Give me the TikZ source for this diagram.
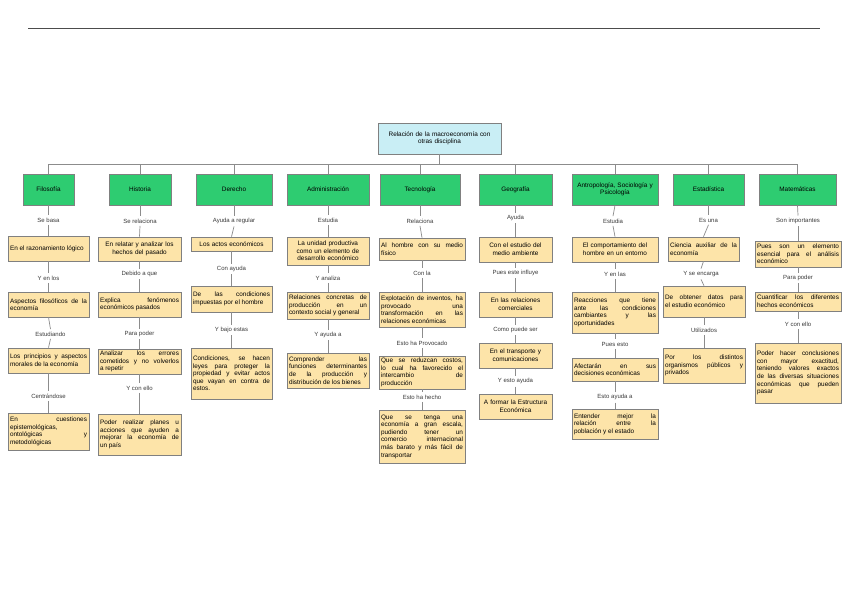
\documentclass[tikz,border=0pt]{standalone}
\usepackage{fontspec}
\setmainfont{Liberation Sans}
\definecolor{gfill}{HTML}{2ECC71}
\definecolor{yfill}{HTML}{FDE4A9}
\definecolor{rfill}{HTML}{C9EEF5}
\definecolor{edgec}{HTML}{808080}
\definecolor{linec}{HTML}{8C8C8C}
\definecolor{lblc}{HTML}{3A3A3A}
\newcommand\ytext{\fontsize{6.4}{7.6}\selectfont\hyphenpenalty=10000\exhyphenpenalty=10000\tolerance=9999\emergencystretch=20pt}
\newcommand\ltext{\fontsize{6}{7}\selectfont}
\newcommand\BX[7]{%
  \pgfmathsetmacro\bxw{#5-#3-4}\pgfmathsetmacro\bxh{#6-#4}%
  \node[#1, text width=\bxw pt, minimum height=\bxh pt] (#2) at ({(#3+#5)/2},{(#4+#6)/2}) {#7};}
\begin{document}
\begin{tikzpicture}[x=1pt,y=-1pt,
  box/.style={draw=edgec, line width=0.7pt, inner sep=2pt, font=\ytext},
  ybox/.style={box, fill=yfill, align=justify},
  ycbox/.style={box, fill=yfill, align=center},
  gbox/.style={box, fill=gfill, align=center},
  rootbox/.style={box, fill=rfill, align=center},
  lbl/.style={font=\ltext, text=lblc, inner sep=2.5pt},
  conn/.style={draw=linec, line width=0.7pt},
  topline/.style={draw=black!70, line width=0.8pt}]
\fill[white] (0,0) rectangle (848,599);
\useasboundingbox (0,0) rectangle (848,599);
\coordinate (tl) at (28,28);
\coordinate (tr) at (820,28);
\draw[topline] (tl) -- (tr);

% root
\BX{rootbox}{root}{378}{123}{501}{154}{Relación de la macroeconomía con\\otras disciplina}
\coordinate (bus) at (439.5,164);
\draw[conn] (root.south) -- (bus);

% green boxes
\BX{gbox}{gF}{23}{174}{74}{205}{Filosofía}
\BX{gbox}{gH}{109}{174}{171}{205}{Historia}
\BX{gbox}{gD}{196}{174}{272}{205}{Derecho}
\BX{gbox}{gA}{287}{174}{369}{205}{Administración}
\BX{gbox}{gT}{380}{174}{460}{205}{Tecnología}
\BX{gbox}{gG}{479}{174}{552}{205}{Geografía}
\BX{gbox}{gN}{572}{174}{658}{205}{Antropología, Sociología y\\Psicología}
\BX{gbox}{gE}{673}{174}{744}{205}{Estadística}
\BX{gbox}{gM}{759}{174}{836}{205}{Matemáticas}
\foreach \g in {gF,gH,gD,gA,gT,gG,gN,gE,gM} \draw[conn] (bus) -| (\g.north);

% Filosofia
\node[lbl] (lF1) at (48.5,220) {Se basa};
\BX{ybox}{F1}{8}{236}{89}{261}{En el razonamiento lógico}
\node[lbl] (lF2) at (48.5,278) {Y en los};
\BX{ybox}{F2}{8}{292}{89}{317}{Aspectos filosóficos de la\linebreak economía}
\node[lbl] (lF3) at (50.5,334) {Estudiando};
\BX{ybox}{F3}{8}{348}{89}{373}{Los principios y aspectos\linebreak morales de la economía}
\node[lbl] (lF4) at (48.5,396) {Centrándose};
\BX{ybox}{F4}{8}{413}{89}{450}{En cuestiones\linebreak epistemológicas,\linebreak ontológicas y\linebreak metodológicas}
\draw[conn] (gF.south) -- (lF1.north); \draw[conn] (lF1.south) -- (F1.north);
\draw[conn] (F1.south) -- (lF2.north); \draw[conn] (lF2.south) -- (F2.north);
\draw[conn] (F2.south) -- (lF3.north); \draw[conn] (lF3.south) -- (F3.north);
\draw[conn] (F3.south) -- (lF4.north); \draw[conn] (lF4.south) -- (F4.north);

% Historia
\node[lbl] (lH1) at (140,221) {Se relaciona};
\BX{ycbox}{H1}{98}{237}{181}{261}{En relatar y analizar los\\hechos del pasado}
\node[lbl] (lH2) at (139.5,274) {Debido a que};
\BX{ybox}{H2}{98}{292}{181}{317}{Explica fenómenos\linebreak económicos pasados}
\node[lbl] (lH3) at (139.5,334) {Para poder};
\BX{ybox}{H3}{98}{349}{181}{374}{Analizar los errores\linebreak cometidos y no volverlos\linebreak a repetir}
\node[lbl] (lH4) at (139.5,388) {Y con ello};
\BX{ybox}{H4}{98}{414}{181}{455}{Poder realizar planes u\linebreak acciones que ayuden a\linebreak mejorar la economía de\linebreak un país}
\draw[conn] (gH.south) -- (lH1.north); \draw[conn] (lH1.south) -- (H1.north);
\draw[conn] (H1.south) -- (lH2.north); \draw[conn] (lH2.south) -- (H2.north);
\draw[conn] (H2.south) -- (lH3.north); \draw[conn] (lH3.south) -- (H3.north);
\draw[conn] (H3.south) -- (lH4.north); \draw[conn] (lH4.south) -- (H4.north);

% Derecho
\node[lbl] (lD1) at (234,221) {Ayuda a regular};
\BX{ycbox}{D1}{191}{237}{272}{251}{Los actos económicos}
\node[lbl] (lD2) at (231.5,269) {Con ayuda};
\BX{ybox}{D2}{191}{286}{272}{312}{De las condiciones\linebreak impuestas por el hombre}
\node[lbl] (lD3) at (231.5,330) {Y bajo estas};
\BX{ybox}{D3}{191}{348}{272}{399}{Condiciones, se hacen\linebreak leyes para proteger la\linebreak propiedad y evitar actos\linebreak que vayan en contra de\linebreak estos.}
\draw[conn] (gD.south) -- (lD1.north); \draw[conn] (lD1.south) -- (D1.north);
\draw[conn] (D1.south) -- (lD2.north); \draw[conn] (lD2.south) -- (D2.north);
\draw[conn] (D2.south) -- (lD3.north); \draw[conn] (lD3.south) -- (D3.north);

% Administracion
\node[lbl] (lA1) at (328,220) {Estudia};
\BX{ycbox}{A1}{287}{237}{369}{265}{La unidad productiva\\como un elemento de\\desarrollo económico}
\node[lbl] (lA2) at (328,278) {Y analiza};
\BX{ybox}{A2}{287}{292}{369}{319}{Relaciones concretas de\linebreak producción en un\linebreak contexto social y general}
\node[lbl] (lA3) at (328,335) {Y ayuda a};
\BX{ybox}{A3}{287}{353}{369}{388}{Comprender las\linebreak funciones determinantes\linebreak de la producción y\linebreak distribución de los bienes}
\draw[conn] (gA.south) -- (lA1.north); \draw[conn] (lA1.south) -- (A1.north);
\draw[conn] (A1.south) -- (lA2.north); \draw[conn] (lA2.south) -- (A2.north);
\draw[conn] (A2.south) -- (lA3.north); \draw[conn] (lA3.south) -- (A3.north);

% Tecnologia
\node[lbl] (lT1) at (420,221) {Relaciona};
\BX{ybox}{T1}{379}{238}{465}{260}{Al hombre con su medio\linebreak físico}
\node[lbl] (lT2) at (422,273) {Con la};
\BX{ybox}{T2}{379}{292}{465}{327}{Explotación de inventos, ha\linebreak provocado una\linebreak transformación en las\linebreak relaciones económicas}
\node[lbl] (lT3) at (422,343) {Esto ha Provocado};
\BX{ybox}{T3}{379}{358}{465}{387}{Que se reduzcan costos,\linebreak lo cual ha favorecido el\linebreak intercambio de\linebreak producción}
\node[lbl] (lT4) at (422,397) {Esto ha hecho};
\BX{ybox}{T4}{379}{410}{465}{463}{Que se tenga una\linebreak economía a gran escala,\linebreak pudiendo tener un\linebreak comercio internacional\linebreak más barato y más fácil de\linebreak transportar}
\draw[conn] (gT.south) -- (lT1.north); \draw[conn] (lT1.south) -- (T1.north);
\draw[conn] (T1.south) -- (lT2.north); \draw[conn] (lT2.south) -- (T2.north);
\draw[conn] (T2.south) -- (lT3.north); \draw[conn] (lT3.south) -- (T3.north);
\draw[conn] (T3.south) -- (lT4.north); \draw[conn] (lT4.south) -- (T4.north);

% Geografia
\node[lbl] (lG1) at (515.5,218) {Ayuda};
\BX{ycbox}{G1}{479}{237}{552}{262}{Con el estudio del\\medio ambiente}
\node[lbl] (lG2) at (515.5,273) {Pues este influye};
\BX{ycbox}{G2}{479}{292}{552}{317}{En las relaciones\\comerciales}
\node[lbl] (lG3) at (515.5,330) {Como puede ser};
\BX{ycbox}{G3}{479}{343}{552}{368}{En el transporte y\\comunicaciones}
\node[lbl] (lG4) at (515.5,381) {Y esto ayuda};
\BX{ycbox}{G4}{479}{394}{552}{419}{A formar la Estructura\\Económica}
\draw[conn] (gG.south) -- (lG1.north); \draw[conn] (lG1.south) -- (G1.north);
\draw[conn] (G1.south) -- (lG2.north); \draw[conn] (lG2.south) -- (G2.north);
\draw[conn] (G2.south) -- (lG3.north); \draw[conn] (lG3.south) -- (G3.north);
\draw[conn] (G3.south) -- (lG4.north); \draw[conn] (lG4.south) -- (G4.north);

% Antropologia
\node[lbl] (lN1) at (613,221) {Estudia};
\BX{ycbox}{N1}{572}{237}{658}{262}{El comportamiento del\\hombre en un entorno}
\node[lbl] (lN2) at (615,274) {Y en las};
\BX{ybox}{N2}{572}{292}{658}{333}{Reacciones que tiene\linebreak ante las condiciones\linebreak cambiantes y las\linebreak oportunidades}
\node[lbl] (lN3) at (615,344) {Pues esto};
\BX{ybox}{N3}{572}{358}{658}{381}{Afectarán en sus\linebreak decisiones económicas}
\node[lbl] (lN4) at (615,397) {Esto ayuda a};
\BX{ybox}{N4}{572}{409}{658}{439}{Entender mejor la\linebreak relación entre la\linebreak población y el estado}
\draw[conn] (gN.south) -- (lN1.north); \draw[conn] (lN1.south) -- (N1.north);
\draw[conn] (N1.south) -- (lN2.north); \draw[conn] (lN2.south) -- (N2.north);
\draw[conn] (N2.south) -- (lN3.north); \draw[conn] (lN3.south) -- (N3.north);
\draw[conn] (N3.south) -- (lN4.north); \draw[conn] (lN4.south) -- (N4.north);

% Estadistica
\node[lbl] (lE1) at (708.5,220) {Es una};
\BX{ybox}{E1}{668}{237}{739}{261}{Ciencia auxiliar de la\linebreak economía}
\node[lbl] (lE2) at (701,274) {Y se encarga};
\BX{ybox}{E2}{663}{286}{745}{317}{De obtener datos para\linebreak el estudio económico}
\node[lbl] (lE3) at (704,330) {Utilizados};
\BX{ybox}{E3}{663}{348}{745}{383}{Por los distintos\linebreak organismos públicos y\linebreak privados}
\draw[conn] (gE.south) -- (lE1.north); \draw[conn] (lE1.south) -- (E1.north);
\draw[conn] (E1.south) -- (lE2.north); \draw[conn] (lE2.south) -- (E2.north);
\draw[conn] (E2.south) -- (lE3.north); \draw[conn] (lE3.south) -- (E3.north);

% Matematicas
\node[lbl] (lM1) at (798,221) {Son importantes};
\BX{ybox}{M1}{755}{241}{841}{267}{Pues son un elemento\linebreak esencial para el análisis\linebreak económico}
\node[lbl] (lM2) at (798,278) {Para poder};
\BX{ybox}{M2}{755}{292}{841}{311}{Cuantificar los diferentes\linebreak hechos económicos}
\node[lbl] (lM3) at (798,324) {Y con ello};
\BX{ybox}{M3}{755}{343}{841}{403}{Poder hacer conclusiones\linebreak con mayor exactitud,\linebreak teniendo valores exactos\linebreak de las diversas situaciones\linebreak económicas que pueden\linebreak pasar}
\draw[conn] (gM.south) -- (lM1.north); \draw[conn] (lM1.south) -- (M1.north);
\draw[conn] (M1.south) -- (lM2.north); \draw[conn] (lM2.south) -- (M2.north);
\draw[conn] (M2.south) -- (lM3.north); \draw[conn] (lM3.south) -- (M3.north);
\end{tikzpicture}
\end{document}
